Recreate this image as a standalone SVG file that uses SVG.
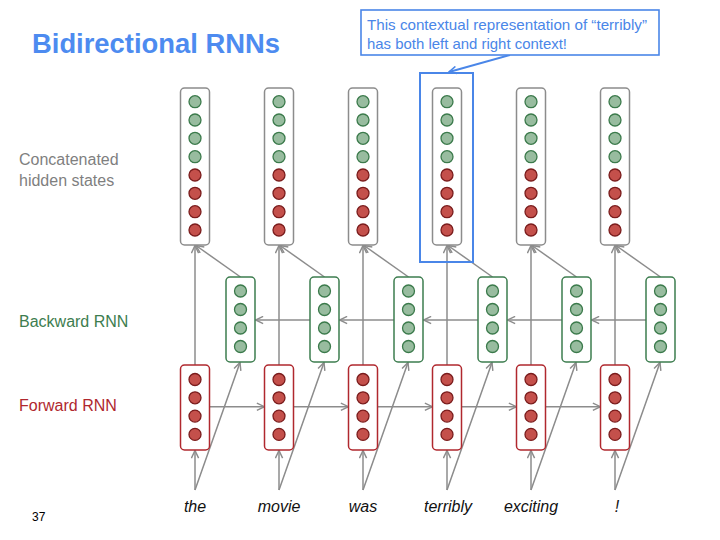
<svg xmlns="http://www.w3.org/2000/svg" width="720" height="540" viewBox="0 0 720 540">
<defs>
<style>
.lbl{font-family:"Liberation Sans",Arial,sans-serif}
.conn{stroke:#8c8c8c;stroke-width:1.5;fill:none;marker-end:url(#ag)}
.cbox{fill:#fff;stroke:#8c8c8c;stroke-width:1.5}
.gbox{fill:#fff;stroke:#3d7d4f;stroke-width:1.5}
.rbox{fill:#fff;stroke:#b0282e;stroke-width:1.5}
.g{fill:#98bc9f;stroke:#3b7a4b;stroke-width:1.3}
.r{fill:#c4504b;stroke:#7a1c1c;stroke-width:1.3}
.word{font-family:"Liberation Sans",Arial,sans-serif;font-style:italic;font-size:16px;fill:#111;text-anchor:middle}
</style>
<marker id="ag" viewBox="0 0 10 10" refX="9.5" refY="5" markerWidth="9" markerHeight="9" orient="auto" markerUnits="userSpaceOnUse">
<path d="M1,1 L9.5,5 L1,9" fill="none" stroke="#8c8c8c" stroke-width="1.6"/>
</marker>
<marker id="ab" viewBox="0 0 10 10" refX="9.5" refY="5" markerWidth="9" markerHeight="9" orient="auto" markerUnits="userSpaceOnUse">
<path d="M1,1 L9.5,5 L1,9" fill="none" stroke="#4a86e8" stroke-width="1.8"/>
</marker>
<g id="concat">
<rect class="cbox" x="-14.5" y="88" width="29" height="157" rx="4"/>
<circle class="g" cx="0" cy="101.7" r="6"/>
<circle class="g" cx="0" cy="120" r="6"/>
<circle class="g" cx="0" cy="138.3" r="6"/>
<circle class="g" cx="0" cy="156.7" r="6"/>
<circle class="r" cx="0" cy="175" r="6"/>
<circle class="r" cx="0" cy="193.3" r="6"/>
<circle class="r" cx="0" cy="211.7" r="6"/>
<circle class="r" cx="0" cy="230" r="6"/>
</g>
<g id="bwd">
<rect class="gbox" x="-14.5" y="277" width="29" height="85" rx="4"/>
<circle class="g" cx="0" cy="291" r="6"/>
<circle class="g" cx="0" cy="309.5" r="6"/>
<circle class="g" cx="0" cy="328" r="6"/>
<circle class="g" cx="0" cy="346.5" r="6"/>
</g>
<g id="fwd">
<rect class="rbox" x="-14.5" y="365" width="29" height="85" rx="4"/>
<circle class="r" cx="0" cy="379.5" r="6"/>
<circle class="r" cx="0" cy="397.8" r="6"/>
<circle class="r" cx="0" cy="416.1" r="6"/>
<circle class="r" cx="0" cy="434.4" r="6"/>
</g>
</defs>
<rect width="720" height="540" fill="#fff"/>

<text class="lbl" x="32" y="53" font-size="27" font-weight="bold" fill="#4d8bf0" textLength="248" lengthAdjust="spacingAndGlyphs">Bidirectional RNNs</text>
<text class="lbl" x="19" y="165" font-size="16" fill="#7f7f7f">Concatenated</text>
<text class="lbl" x="19" y="186" font-size="16" fill="#7f7f7f">hidden states</text>
<text class="lbl" x="19" y="327" font-size="16" fill="#3d7d4f">Backward RNN</text>
<text class="lbl" x="19" y="411" font-size="16" fill="#b0282e">Forward RNN</text>
<text class="lbl" x="32" y="521" font-size="12" fill="#000">37</text>

<g id="connectors">
<!-- forward recurrence -->
<line class="conn" x1="209.5" y1="406.7" x2="264.5" y2="406.7"/>
<line class="conn" x1="293.5" y1="406.7" x2="348.5" y2="406.7"/>
<line class="conn" x1="377.5" y1="406.7" x2="432.5" y2="406.7"/>
<line class="conn" x1="461.5" y1="406.7" x2="516.5" y2="406.7"/>
<line class="conn" x1="545.5" y1="406.7" x2="600.5" y2="406.7"/>
<!-- backward recurrence -->
<line class="conn" x1="310.5" y1="320" x2="255.5" y2="320"/>
<line class="conn" x1="394.5" y1="320" x2="339.5" y2="320"/>
<line class="conn" x1="478.5" y1="320" x2="423.5" y2="320"/>
<line class="conn" x1="562.5" y1="320" x2="507.5" y2="320"/>
<line class="conn" x1="646.5" y1="320" x2="591.5" y2="320"/>
<!-- forward to concat -->
<line class="conn" x1="195" y1="365" x2="195" y2="245.5"/>
<line class="conn" x1="279" y1="365" x2="279" y2="245.5"/>
<line class="conn" x1="363" y1="365" x2="363" y2="245.5"/>
<line class="conn" x1="447" y1="365" x2="447" y2="245.5"/>
<line class="conn" x1="531" y1="365" x2="531" y2="245.5"/>
<line class="conn" x1="615" y1="365" x2="615" y2="245.5"/>
<!-- backward to concat -->
<line class="conn" x1="240.5" y1="277" x2="196" y2="245.5"/>
<line class="conn" x1="324.5" y1="277" x2="280" y2="245.5"/>
<line class="conn" x1="408.5" y1="277" x2="364" y2="245.5"/>
<line class="conn" x1="492.5" y1="277" x2="448" y2="245.5"/>
<line class="conn" x1="576.5" y1="277" x2="532" y2="245.5"/>
<line class="conn" x1="660.5" y1="277" x2="616" y2="245.5"/>
<!-- words to forward -->
<line class="conn" x1="195" y1="490" x2="195" y2="450.5"/>
<line class="conn" x1="279" y1="490" x2="279" y2="450.5"/>
<line class="conn" x1="363" y1="490" x2="363" y2="450.5"/>
<line class="conn" x1="447" y1="490" x2="447" y2="450.5"/>
<line class="conn" x1="531" y1="490" x2="531" y2="450.5"/>
<line class="conn" x1="615" y1="490" x2="615" y2="450.5"/>
<!-- words to backward -->
<line class="conn" x1="195" y1="490" x2="240" y2="362.5"/>
<line class="conn" x1="279" y1="490" x2="324" y2="362.5"/>
<line class="conn" x1="363" y1="490" x2="408" y2="362.5"/>
<line class="conn" x1="447" y1="490" x2="492" y2="362.5"/>
<line class="conn" x1="531" y1="490" x2="576" y2="362.5"/>
<line class="conn" x1="615" y1="490" x2="660" y2="362.5"/>
<!-- callout pointer -->
<line x1="510" y1="55" x2="449" y2="72" stroke="#4a86e8" stroke-width="2" marker-end="url(#ab)"/>
</g>

<g id="concat-the"><use href="#concat" x="195"/></g>
<g id="concat-movie"><use href="#concat" x="279"/></g>
<g id="concat-was"><use href="#concat" x="363"/></g>
<g id="concat-terribly"><use href="#concat" x="447"/></g>
<g id="concat-exciting"><use href="#concat" x="531"/></g>
<g id="concat-excl"><use href="#concat" x="615"/></g>

<g id="bwd-the"><use href="#bwd" x="240.5"/></g>
<g id="bwd-movie"><use href="#bwd" x="324.5"/></g>
<g id="bwd-was"><use href="#bwd" x="408.5"/></g>
<g id="bwd-terribly"><use href="#bwd" x="492.5"/></g>
<g id="bwd-exciting"><use href="#bwd" x="576.5"/></g>
<g id="bwd-excl"><use href="#bwd" x="660.5"/></g>

<g id="fwd-the"><use href="#fwd" x="195"/></g>
<g id="fwd-movie"><use href="#fwd" x="279"/></g>
<g id="fwd-was"><use href="#fwd" x="363"/></g>
<g id="fwd-terribly"><use href="#fwd" x="447"/></g>
<g id="fwd-exciting"><use href="#fwd" x="531"/></g>
<g id="fwd-excl"><use href="#fwd" x="615"/></g>

<g id="highlight">
<rect x="420" y="73" width="53" height="189" fill="none" stroke="#4a86e8" stroke-width="2"/>
</g>

<g id="callout">
<rect x="361" y="10" width="298" height="45" fill="#fff" stroke="#4a86e8" stroke-width="1.6"/>
<text class="lbl" x="367" y="30" font-size="15" fill="#4a86e8" textLength="280" lengthAdjust="spacingAndGlyphs">This contextual representation of “terribly”</text>
<text class="lbl" x="367" y="48.5" font-size="15" fill="#4a86e8" textLength="200" lengthAdjust="spacingAndGlyphs">has both left and right context!</text>
</g>

<g id="words">
<text class="word" x="195" y="512">the</text>
<text class="word" x="279" y="512">movie</text>
<text class="word" x="363" y="512">was</text>
<text class="word" x="448" y="512">terribly</text>
<text class="word" x="531" y="512">exciting</text>
<text class="word" x="617" y="512">!</text>
</g>
</svg>
